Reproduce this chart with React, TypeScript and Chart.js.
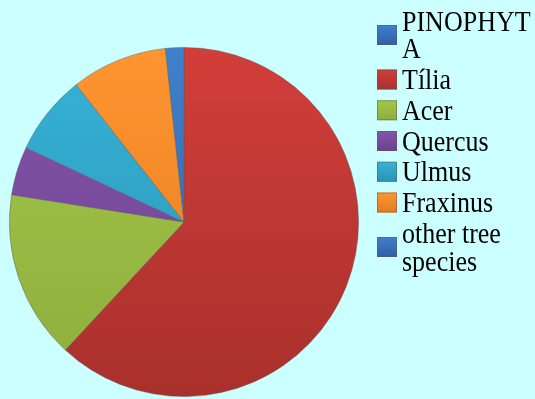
import React, { useEffect, useRef } from "react";
import { Chart, registerables } from "chart.js";

Chart.register(...registerables);

const labels = ["PINOPHYTA", "Tília", "Acer", "Quercus", "Ulmus", "Fraxinus", "other tree species"];
const values = [0, 61.9, 15.6, 4.5, 7.4, 8.9, 1.7];
const topColors = ["#4080cc", "#d23e3a", "#a2c84a", "#8455ac", "#36b2d6", "#ff9530", "#4080cc"];
const bottomColors = ["#305fa6", "#a9302c", "#8fad3c", "#6c418f", "#2a95b4", "#e37c1e", "#305fa6"];

const BG = "#ccffff";
const SCALE_Y = 1.15;
const FONT = "26px 'Liberation Serif', Tinos, 'Times New Roman', Times, serif";

function wrapText(ctx: CanvasRenderingContext2D, text: string, max: number): string[] {
  const words = text.split(" ");
  const lines: string[] = [];
  let cur = "";
  for (const w of words) {
    const test = cur ? cur + " " + w : w;
    if (ctx.measureText(test).width <= max) {
      cur = test;
      continue;
    }
    if (cur) {
      lines.push(cur);
      cur = "";
    }
    let piece = "";
    for (const ch of w) {
      if (piece && ctx.measureText(piece + ch).width > max) {
        lines.push(piece);
        piece = ch;
      } else {
        piece += ch;
      }
    }
    cur = piece;
  }
  if (cur) lines.push(cur);
  return lines;
}

const sideLegend = {
  id: "sideLegend",
  afterDraw(chart: any) {
    const ctx: CanvasRenderingContext2D = chart.ctx;
    ctx.save();
    ctx.font = FONT;
    ctx.textBaseline = "alphabetic";
    ctx.textAlign = "left";
    let base = 31;
    const lineStep = 27.5;
    const itemStep = 30.75;
    labels.forEach((lab, i) => {
      const lines = wrapText(ctx, lab, 135);
      const first = base;
      const last = base + (lines.length - 1) * lineStep;
      const center = (first + last) / 2 - 9.75;
      const top = center - 10;
      const g = ctx.createLinearGradient(0, top, 0, top + 20);
      g.addColorStop(0, topColors[i]);
      g.addColorStop(1, bottomColors[i]);
      ctx.fillStyle = g;
      ctx.fillRect(377, top, 20, 20);
      ctx.strokeStyle = "rgba(90,90,90,0.5)";
      ctx.lineWidth = 1;
      ctx.strokeRect(377.5, top + 0.5, 19, 19);
      ctx.fillStyle = "#000";
      lines.forEach((ln, k) => {
        const y = first + k * lineStep;
        ctx.save();
        ctx.scale(1, SCALE_Y);
        ctx.fillText(ln, 402, y / SCALE_Y);
        ctx.restore();
      });
      base = last + itemStep;
    });
    ctx.restore();
  },
};

export default function App() {
  const ref = useRef<HTMLCanvasElement | null>(null);

  useEffect(() => {
    if (!ref.current) return;
    const chart = new Chart(ref.current, {
      type: "pie",
      data: {
        labels,
        datasets: [
          {
            data: values,
            backgroundColor: (ctx: any) => {
              const i = ctx.dataIndex;
              const area = ctx.chart.chartArea;
              if (!area) return topColors[i];
              const g = ctx.chart.ctx.createLinearGradient(0, area.top, 0, area.bottom);
              g.addColorStop(0, topColors[i]);
              g.addColorStop(1, bottomColors[i]);
              return g;
            },
            borderColor: "rgba(90,90,90,0.55)",
            borderWidth: 0.8,
          },
        ],
      },
      options: {
        animation: false,
        responsive: false,
        maintainAspectRatio: false,
        layout: { padding: { left: 9, top: 47, right: 176, bottom: 2 } },
        plugins: {
          legend: { display: false },
          tooltip: { enabled: false },
        },
      },
      plugins: [sideLegend],
    });
    let alive = true;
    const fonts: any = (document as any).fonts;
    if (fonts && fonts.load) {
      fonts
        .load(FONT, "PINOPHYTA Tília")
        .then(() => {
          if (alive) chart.draw();
        })
        .catch(() => {});
    }
    return () => {
      alive = false;
      chart.destroy();
    };
  }, []);

  return (
    <div
      style={{
        position: "absolute",
        left: 0,
        top: 0,
        width: 535,
        height: 399,
        background: BG,
        overflow: "hidden",
        fontFamily: "'Liberation Serif', serif",
      }}
    >
      <span style={{ position: "absolute", left: -100, top: -100, fontSize: 26, fontFamily: "'Liberation Serif'" }}>
        .
      </span>
      <canvas
        ref={ref}
        width={535}
        height={399}
        style={{ position: "absolute", left: 0, top: 0, width: 535, height: 399, display: "block" }}
      />
    </div>
  );
}
